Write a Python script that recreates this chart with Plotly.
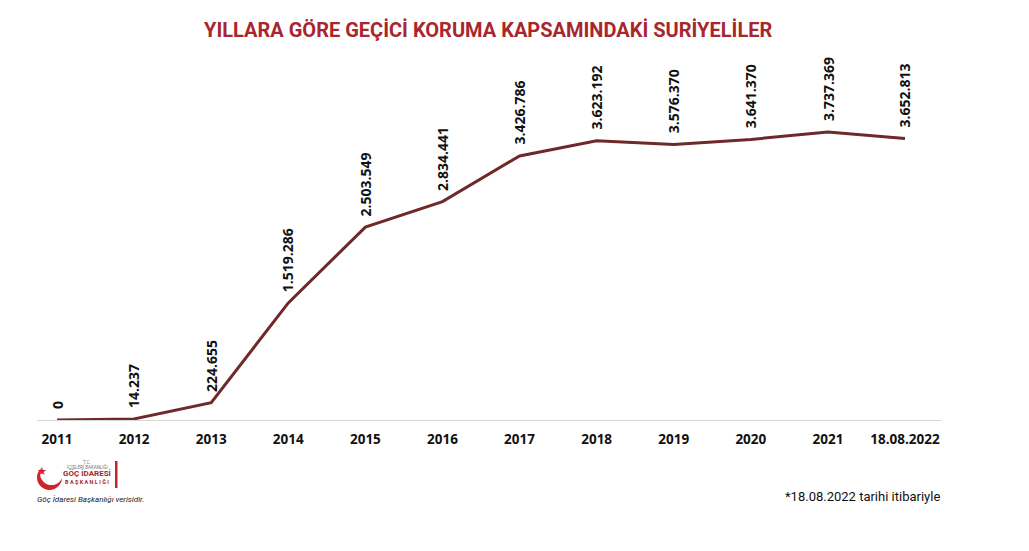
import plotly.graph_objects as go

# Yearly figures: Syrians under temporary protection
years = ["2011", "2012", "2013", "2014", "2015", "2016", "2017", "2018", "2019", "2020", "2021", "18.08.2022"]
values = [0, 14237, 224655, 1519286, 2503549, 2834441, 3426786, 3623192, 3576370, 3641370, 3737369, 3652813]
value_labels = ["0", "14.237", "224.655", "1.519.286", "2.503.549", "2.834.441", "3.426.786",
                "3.623.192", "3.576.370", "3.641.370", "3.737.369", "3.652.813"]

TITLE = "YILLARA GÖRE GEÇİCİ KORUMA KAPSAMINDAKİ SURİYELİLER"
FOOTNOTE = "*18.08.2022 tarihi itibariyle"
SOURCE = "Göç İdaresi Başkanlığı verisidir."

W, H = 1029, 551
ML, MR, MT, MB = 37, 87, 60, 131
PW, PH = W - ML - MR, H - MT - MB

NARROW = "Roboto"


def px(x):
    """pixel column -> paper x"""
    return (x - ML) / PW


def py(y):
    """pixel row -> paper y"""
    return (H - MB - y) / PH


LINE_COLOR = "#6e2a2b"
RED = "#a8262d"

fig = go.Figure()
fig.add_trace(go.Scatter(
    x=list(range(len(years))), y=values, mode="lines",
    line=dict(color=LINE_COLOR, width=3), hoverinfo="skip", showlegend=False,
))

annotations = []
# rotated value labels above each point
for i, (v, t) in enumerate(zip(values, value_labels)):
    annotations.append(dict(
        x=i, y=v, xref="x", yref="y", text=f"<b>{t}</b>", textangle=-90,
        showarrow=False, xanchor="center", yanchor="bottom", yshift=9,
        font=dict(family="Open Sans", size=14, color="#111111"),
    ))

# title
annotations.append(dict(
    x=px(488), y=py(30), xref="paper", yref="paper", text=f"<b>{TITLE}</b>",
    showarrow=False, xanchor="center", yanchor="middle",
    font=dict(family=NARROW, size=20, color=RED),
))
# footnote
annotations.append(dict(
    x=px(942), y=py(497), xref="paper", yref="paper", text=FOOTNOTE,
    showarrow=False, xanchor="right", yanchor="middle",
    font=dict(family=NARROW, size=13, color="#111111"),
))
# logo texts
logo_texts = [
    ("T.C.", 87, 462, 4.5, "#777777", False),
    ("İÇİŞLERİ BAKANLIĞI", 87, 467, 4.5, "#777777", False),
    ("GÖÇ İDARESİ", 87, 474, 8, RED, True),
    ("B A Ş K A N L I Ğ I", 87, 482, 5.5, RED, True),
]
for txt, x0, y0, sz, col, bold in logo_texts:
    annotations.append(dict(
        x=px(x0), y=py(y0), xref="paper", yref="paper",
        text=f"<b>{txt}</b>" if bold else txt, showarrow=False,
        xanchor="center", yanchor="middle",
        font=dict(family=NARROW, size=sz, color=col),
    ))
annotations.append(dict(
    x=px(35), y=py(499), xref="paper", yref="paper", text=f"<i>{SOURCE}</i>",
    showarrow=False, xanchor="left", yanchor="middle",
    font=dict(family=NARROW, size=8, color="#222222"),
))
annotations.append(dict(
    x=px(42), y=py(471), xref="paper", yref="paper", text="★",
    showarrow=False, xanchor="center", yanchor="middle",
    font=dict(family="DejaVu Sans", size=11, color="#d2232a"),
))

shapes = [
    # crescent: red disc with white disc cut out
    dict(type="circle", xref="paper", yref="paper", x0=px(37), x1=px(62), y0=py(490), y1=py(465),
         fillcolor="#d2232a", line=dict(width=0), layer="above"),
    dict(type="circle", xref="paper", yref="paper", x0=px(40), x1=px(63), y0=py(485), y1=py(462),
         fillcolor="white", line=dict(width=0), layer="above"),
    # red vertical bar beside the logo text
    dict(type="rect", xref="paper", yref="paper", x0=px(115), x1=px(117.5), y0=py(488), y1=py(461),
         fillcolor="#c0272d", line=dict(width=0), layer="above"),
]

fig.update_layout(
    width=W, height=H,
    margin=dict(l=ML, r=MR, t=MT, b=MB),
    paper_bgcolor="white", plot_bgcolor="white",
    showlegend=False,
    annotations=annotations,
    shapes=shapes,
    xaxis=dict(
        range=[-0.26, 11.48], tickmode="array",
        tickvals=list(range(len(years))), ticktext=[f"<b>{y}</b>" for y in years],
        tickfont=dict(family="Open Sans", size=13.5, color="#111111"),
        showgrid=False, zeroline=False, showline=True, linecolor="#d9d9d9", linewidth=1,
        ticks="", ticklabelstandoff=7, fixedrange=True,
    ),
    yaxis=dict(
        range=[0, 360 / 77.06 * 1e6], visible=False, showgrid=False, zeroline=False, fixedrange=True,
    ),
)

fig.write_html("out.html")
